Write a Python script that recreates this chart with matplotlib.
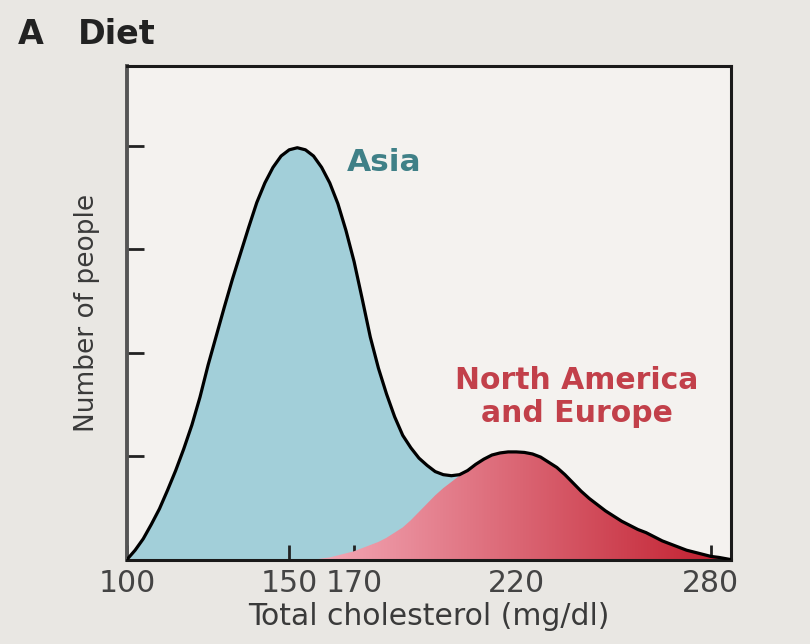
import numpy as np
from matplotlib import pyplot as plt
from matplotlib.colors import LinearSegmentedColormap

# black outline (all people)
chol = [100, 102.5, 105, 107.5, 110, 112.5, 115, 117.5, 120, 122.5, 125, 127.5, 130, 132.5,
        135, 137.5, 140, 142.5, 145, 147.5, 150, 152.5, 155, 157.5, 160, 162.5, 165, 167.5,
        170, 172.5, 175, 177.5, 180, 182.5, 185, 187.5, 190, 192.5, 195, 197.5, 200, 202.5,
        205, 207.5, 210, 212.5, 215, 217.5, 220, 222.5, 225, 227.5, 230, 232.5, 235, 237.5,
        240, 242.5, 245, 247.5, 250, 252.5, 255, 257.5, 260, 262.5, 265, 267.5, 270, 272.5,
        275, 277.5, 280, 282.5, 286]
total = [0.0, 0.09, 0.20, 0.34, 0.49, 0.67, 0.86, 1.07, 1.30, 1.57, 1.88, 2.16, 2.44, 2.71,
         2.96, 3.21, 3.45, 3.64, 3.79, 3.90, 3.96, 3.98, 3.96, 3.90, 3.79, 3.64, 3.44, 3.18,
         2.88, 2.52, 2.15, 1.85, 1.60, 1.38, 1.20, 1.08, 0.98, 0.91, 0.85, 0.82, 0.81, 0.82,
         0.86, 0.92, 0.97, 1.01, 1.03, 1.04, 1.04, 1.035, 1.02, 0.99, 0.94, 0.89, 0.82, 0.74,
         0.66, 0.59, 0.53, 0.47, 0.42, 0.37, 0.33, 0.29, 0.26, 0.22, 0.18, 0.15, 0.12, 0.09,
         0.07, 0.05, 0.03, 0.02, 0.0]

# North America and Europe curve
na_chol = [158, 160, 162.5, 165, 167.5, 170, 172.5, 175, 177.5, 180, 182.5, 185, 187.5, 190,
           192.5, 195, 197.5, 200, 202.5, 205, 207.5, 210, 212.5, 215, 217.5, 220, 222.5, 225,
           227.5, 230, 232.5, 235, 237.5, 240, 242.5, 245, 247.5, 250, 252.5, 255, 257.5, 260,
           262.5, 265, 267.5, 270, 272.5, 275, 277.5, 280, 282.5, 286]
na = [0.0, 0.01, 0.02, 0.04, 0.06, 0.08, 0.11, 0.14, 0.17, 0.21, 0.26, 0.31, 0.38, 0.46,
      0.54, 0.62, 0.69, 0.75, 0.81, 0.86, 0.92, 0.97, 1.01, 1.03, 1.04, 1.04, 1.035, 1.02,
      0.99, 0.94, 0.89, 0.82, 0.74, 0.66, 0.59, 0.53, 0.47, 0.42, 0.37, 0.33, 0.29, 0.26,
      0.22, 0.18, 0.15, 0.12, 0.09, 0.07, 0.05, 0.03, 0.02, 0.0]

xticks = [100, 150, 170, 220, 280]
yticks = [1, 2, 3, 4]

fig = plt.figure(figsize=(8.1, 6.44), dpi=100, facecolor='#e9e7e3')
ax = fig.add_axes([0.1568, 0.1312, 0.7457, 0.7663])
ax.set_facecolor('#f4f2ef')

ax.fill_between(chol, total, color='#a2cfd9', lw=0, zorder=1)

# red gradient under the NA curve
cmap = LinearSegmentedColormap.from_list('na', ['#f4aab8', '#da6472', '#c01c2c'])
grad = np.linspace(0, 1, 256).reshape(1, -1)
im = ax.imshow(grad, extent=[158, 286, 0, 1.2], aspect='auto', cmap=cmap, zorder=2)
poly = ax.fill_between(na_chol, na, color='none', lw=0)
im.set_clip_path(poly.get_paths()[0], transform=ax.transData)

ax.plot(chol, total, color='black', lw=2.3, zorder=4,
        solid_joinstyle='round', solid_capstyle='round')

ax.set_xlim(100, 286.2)
ax.set_ylim(0, 4.77)

ax.set_xticks(xticks)
ax.set_xticklabels([str(t) for t in xticks])
ax.set_yticks(yticks)
ax.set_yticklabels([])
ax.tick_params(axis='x', direction='in', length=11, width=2, color='#222',
               labelsize=21.5, labelcolor='#444', pad=7)
ax.tick_params(axis='y', direction='in', length=12, width=2, color='#222')

for side in ['top', 'bottom', 'right']:
    ax.spines[side].set_color('#1a1a1a')
    ax.spines[side].set_linewidth(2.2)
ax.spines['left'].set_color('#555')
ax.spines['left'].set_linewidth(2.8)

ax.set_xlabel('Total cholesterol (mg/dl)', fontsize=21.5, color='#3a3a3a', labelpad=3)
ax.set_ylabel('Number of people', fontsize=19, color='#3a3a3a', labelpad=16)

ax.text(167.9, 3.76, 'Asia', fontsize=22.5, fontweight='bold', color='#3f8087',
        ha='left', va='baseline', zorder=5)
ax.text(238.7, 1.65, 'North America', fontsize=21.5, fontweight='bold', color='#c2404a',
        ha='center', va='baseline', zorder=5)
ax.text(238.7, 1.33, 'and Europe', fontsize=21.5, fontweight='bold', color='#c2404a',
        ha='center', va='baseline', zorder=5)

fig.text(18 / 810, 1 - 44 / 644, 'A', fontsize=24, fontweight='bold', color='#222',
         ha='left', va='baseline')
fig.text(78 / 810, 1 - 44 / 644, 'Diet', fontsize=24, fontweight='bold', color='#222',
         ha='left', va='baseline')

plt.savefig('out.png', dpi=100, facecolor=fig.get_facecolor())
